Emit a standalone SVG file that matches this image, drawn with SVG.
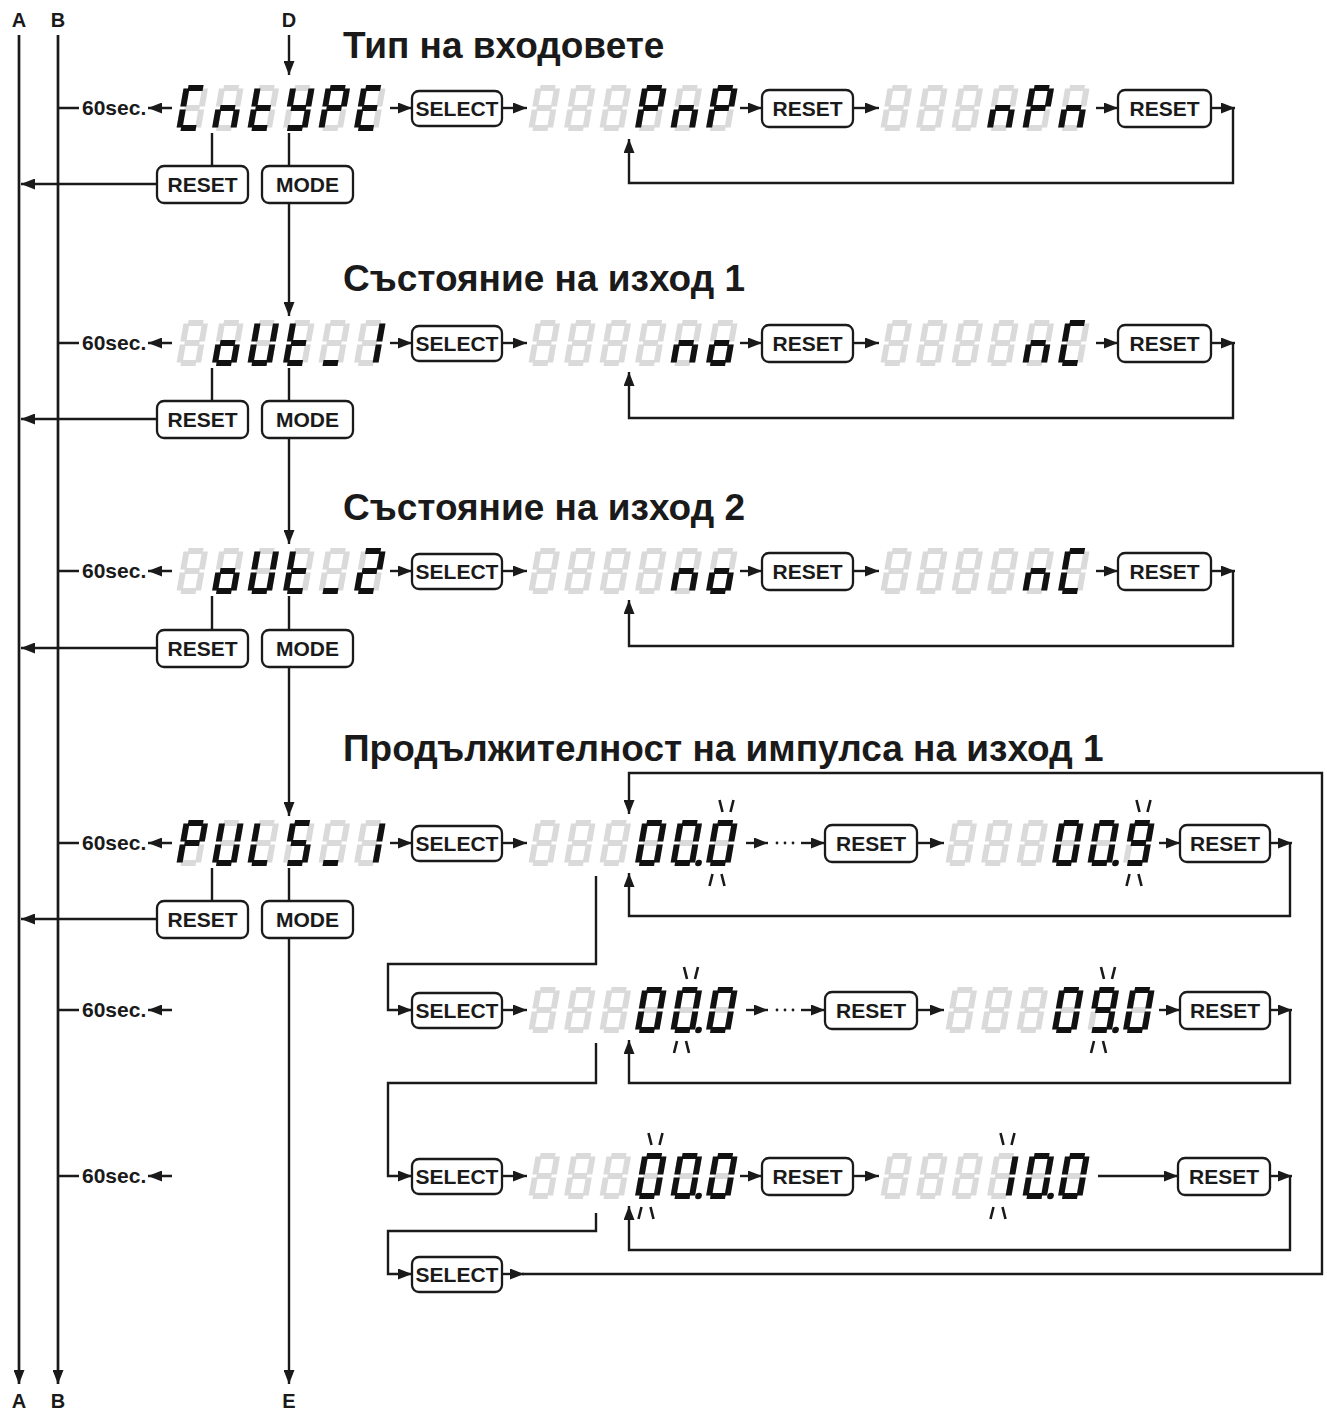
<svg xmlns="http://www.w3.org/2000/svg" width="1327" height="1412" viewBox="0 0 1327 1412">
<style>
.ln{stroke:#1a1a1a;stroke-width:2.4;fill:none}
.lw{stroke:#1a1a1a;stroke-width:2.7;fill:none}
.bl{stroke:#1a1a1a;stroke-width:2.6;fill:none}
.arr{marker-end:url(#ah)}
.btn{fill:#fff;stroke:#1a1a1a;stroke-width:2.3}
.bt{font-family:"Liberation Sans",Arial,sans-serif;font-weight:bold;font-size:21px;text-anchor:middle;fill:#1a1a1a}
.ttl{font-family:"Liberation Sans",Arial,sans-serif;font-weight:bold;font-size:37px;fill:#1a1a1a}
.sec{font-family:"Liberation Sans",Arial,sans-serif;font-weight:bold;font-size:21px;fill:#1a1a1a}
.lbl{font-family:"Liberation Sans",Arial,sans-serif;font-weight:bold;font-size:20px;text-anchor:middle;fill:#1a1a1a}
.on{fill:#111}
.off{fill:#dadada}
.dot{fill:#1a1a1a}
</style>
<defs>
<marker id="ah" viewBox="0 0 14 11" refX="14" refY="5.5" markerWidth="14" markerHeight="11" markerUnits="userSpaceOnUse" orient="auto"><path d="M0,0 L14,5.5 L0,11 z" fill="#1a1a1a"/></marker>
<rect id="sa" x="4.5" y="0" width="15" height="6"/>
<rect id="sb" x="18.5" y="3.5" width="6" height="18"/>
<rect id="sc" x="18.5" y="24.5" width="6" height="18"/>
<rect id="sd" x="4.5" y="40" width="15" height="6"/>
<rect id="se" x="0" y="24.5" width="6" height="18"/>
<rect id="sf" x="0" y="3.5" width="6" height="18"/>
<rect id="sg" x="4.5" y="20" width="15" height="6"/>
<circle id="sdp" cx="28" cy="43" r="3.3"/>
<g id="g8" class="off"><use href="#sa"/><use href="#sb"/><use href="#sc"/><use href="#sd"/><use href="#se"/><use href="#sf"/><use href="#sg"/></g>
<g id="c-sp" transform="translate(8.1 0) skewX(-10)"><use href="#g8"/></g>
<g id="c-C" transform="translate(8.1 0) skewX(-10)"><use href="#g8"/><g class="on"><use href="#sa"/><use href="#sd"/><use href="#se"/><use href="#sf"/></g></g>
<g id="c-n" transform="translate(8.1 0) skewX(-10)"><use href="#g8"/><g class="on"><use href="#sc"/><use href="#se"/><use href="#sg"/></g></g>
<g id="c-t" transform="translate(8.1 0) skewX(-10)"><use href="#g8"/><g class="on"><use href="#sd"/><use href="#se"/><use href="#sf"/><use href="#sg"/></g></g>
<g id="c-Y" transform="translate(8.1 0) skewX(-10)"><use href="#g8"/><g class="on"><use href="#sb"/><use href="#sc"/><use href="#sd"/><use href="#sf"/><use href="#sg"/></g></g>
<g id="c-P" transform="translate(8.1 0) skewX(-10)"><use href="#g8"/><g class="on"><use href="#sa"/><use href="#sb"/><use href="#se"/><use href="#sf"/><use href="#sg"/></g></g>
<g id="c-E" transform="translate(8.1 0) skewX(-10)"><use href="#g8"/><g class="on"><use href="#sa"/><use href="#sd"/><use href="#se"/><use href="#sf"/><use href="#sg"/></g></g>
<g id="c-o" transform="translate(8.1 0) skewX(-10)"><use href="#g8"/><g class="on"><use href="#sc"/><use href="#sd"/><use href="#se"/><use href="#sg"/></g></g>
<g id="c-U" transform="translate(8.1 0) skewX(-10)"><use href="#g8"/><g class="on"><use href="#sb"/><use href="#sc"/><use href="#sd"/><use href="#se"/><use href="#sf"/></g></g>
<g id="c-us" transform="translate(8.1 0) skewX(-10)"><use href="#g8"/><g class="on"><use href="#sd"/></g></g>
<g id="c-1" transform="translate(8.1 0) skewX(-10)"><use href="#g8"/><g class="on"><use href="#sb"/><use href="#sc"/></g></g>
<g id="c-2" transform="translate(8.1 0) skewX(-10)"><use href="#g8"/><g class="on"><use href="#sa"/><use href="#sb"/><use href="#sd"/><use href="#se"/><use href="#sg"/></g></g>
<g id="c-S" transform="translate(8.1 0) skewX(-10)"><use href="#g8"/><g class="on"><use href="#sa"/><use href="#sc"/><use href="#sd"/><use href="#sf"/><use href="#sg"/></g></g>
<g id="c-L" transform="translate(8.1 0) skewX(-10)"><use href="#g8"/><g class="on"><use href="#sd"/><use href="#se"/><use href="#sf"/></g></g>
<g id="c-0" transform="translate(8.1 0) skewX(-10)"><use href="#g8"/><g class="on"><use href="#sa"/><use href="#sb"/><use href="#sc"/><use href="#sd"/><use href="#se"/><use href="#sf"/></g></g>
<g id="c-0d" transform="translate(8.1 0) skewX(-10)"><use href="#g8"/><g class="on"><use href="#sa"/><use href="#sb"/><use href="#sc"/><use href="#sd"/><use href="#se"/><use href="#sf"/><use href="#sdp"/></g></g>
<g id="c-9" transform="translate(8.1 0) skewX(-10)"><use href="#g8"/><g class="on"><use href="#sa"/><use href="#sb"/><use href="#sc"/><use href="#sd"/><use href="#sf"/><use href="#sg"/></g></g>
<g id="c-9d" transform="translate(8.1 0) skewX(-10)"><use href="#g8"/><g class="on"><use href="#sa"/><use href="#sb"/><use href="#sc"/><use href="#sd"/><use href="#sf"/><use href="#sg"/><use href="#sdp"/></g></g>
</defs>
<rect width="1327" height="1412" fill="#fff"/>

<g id="labels">
<text class="lbl" x="19" y="27">A</text>
<text class="lbl" x="58" y="27">B</text>
<text class="lbl" x="289" y="27">D</text>
<text class="lbl" x="19" y="1408">A</text>
<text class="lbl" x="58" y="1408">B</text>
<text class="lbl" x="289" y="1408">E</text>
</g>

<g id="titles">
<text class="ttl" x="343" y="58">Тип на входовете</text>
<text class="ttl" x="343" y="291">Състояние на изход 1</text>
<text class="ttl" x="343" y="520">Състояние на изход 2</text>
<text class="ttl" x="343" y="761">Продължителност на импулса на изход 1</text>
</g>

<g id="connectors">
<path class="lw arr" d="M19 35 V1384"/>
<path class="lw arr" d="M58 35 V1384"/>
<path class="ln arr" d="M289 35 V75"/>
<path class="ln arr" d="M79 108 H59 M172 108 H148"/>
<path class="ln arr" d="M79 343 H59 M172 343 H148"/>
<path class="ln arr" d="M79 571 H59 M172 571 H148"/>
<path class="ln arr" d="M79 843 H59 M172 843 H148"/>
<path class="ln arr" d="M79 1010 H59 M172 1010 H148"/>
<path class="ln arr" d="M79 1176 H59 M172 1176 H148"/>
<!-- row 1 -->
<path class="ln arr" d="M390 108 H412"/>
<path class="ln arr" d="M502 108 H527"/>
<path class="ln arr" d="M740 108 H762"/>
<path class="ln arr" d="M853 108 H879"/>
<path class="ln arr" d="M1096 108 H1118"/>
<path class="ln arr" d="M1211 108 H1235"/>
<path class="ln arr" d="M1233 108 V183 H629 V139"/>
<path class="ln" d="M212 133 V166 M289 133 V166"/>
<path class="ln arr" d="M157 184 H21"/>
<path class="ln arr" d="M289 203 V316"/>
<!-- row 2 -->
<path class="ln arr" d="M390 343 H412"/>
<path class="ln arr" d="M502 343 H527"/>
<path class="ln arr" d="M740 343 H762"/>
<path class="ln arr" d="M853 343 H879"/>
<path class="ln arr" d="M1096 343 H1118"/>
<path class="ln arr" d="M1211 343 H1235"/>
<path class="ln arr" d="M1233 343 V418 H629 V372"/>
<path class="ln" d="M212 368 V401 M289 368 V401"/>
<path class="ln arr" d="M157 419 H21"/>
<path class="ln arr" d="M289 438 V544"/>
<!-- row 3 -->
<path class="ln arr" d="M390 571 H412"/>
<path class="ln arr" d="M502 571 H527"/>
<path class="ln arr" d="M740 571 H762"/>
<path class="ln arr" d="M853 571 H879"/>
<path class="ln arr" d="M1096 571 H1118"/>
<path class="ln arr" d="M1211 571 H1235"/>
<path class="ln arr" d="M1233 571 V646 H629 V600"/>
<path class="ln" d="M212 596 V629 M289 596 V629"/>
<path class="ln arr" d="M157 648 H21"/>
<path class="ln arr" d="M289 667 V816"/>
<!-- row 4 -->
<path class="ln arr" d="M390 843 H412"/>
<path class="ln arr" d="M502 843 H527"/>
<path class="ln arr" d="M746 843 H768"/>
<path class="ln arr" d="M801 843 H825"/>
<path class="ln arr" d="M917 843 H944"/>
<path class="ln arr" d="M1159 843 H1180"/>
<path class="ln arr" d="M1270 843 H1292"/>
<path class="ln arr" d="M1290 843 V916 H629 V873"/>
<path class="ln" d="M212 868 V901 M289 868 V901"/>
<path class="ln arr" d="M157 919 H21"/>
<path class="ln arr" d="M289 938 V1384"/>
<path class="ln arr" d="M596 876 V964 H388 V1010 H412"/>
<!-- row 5 -->
<path class="ln arr" d="M502 1010 H527"/>
<path class="ln arr" d="M746 1010 H768"/>
<path class="ln arr" d="M801 1010 H825"/>
<path class="ln arr" d="M917 1010 H944"/>
<path class="ln arr" d="M1159 1010 H1180"/>
<path class="ln arr" d="M1270 1010 H1292"/>
<path class="ln arr" d="M1290 1010 V1083 H629 V1040"/>
<path class="ln arr" d="M596 1043 V1083 H388 V1176 H412"/>
<!-- row 6 -->
<path class="ln arr" d="M502 1176 H527"/>
<path class="ln arr" d="M740 1176 H762"/>
<path class="ln arr" d="M853 1176 H879"/>
<path class="ln arr" d="M1098 1176 H1178"/>
<path class="ln arr" d="M1270 1176 H1292"/>
<path class="ln arr" d="M1290 1176 V1250 H629 V1206"/>
<path class="ln arr" d="M596 1213 V1231 H388 V1274 H412"/>
<!-- row 7 / big loop -->
<path class="ln arr" d="M502 1274 H524"/>
<path class="ln arr" d="M522 1274 H1322 V773 H629 V814"/>
<circle class="dot" cx="777" cy="843" r="1.4"/><circle class="dot" cx="785" cy="843" r="1.4"/><circle class="dot" cx="793" cy="843" r="1.4"/>
<circle class="dot" cx="777" cy="1010" r="1.4"/><circle class="dot" cx="785" cy="1010" r="1.4"/><circle class="dot" cx="793" cy="1010" r="1.4"/>
</g>

<g id="timeouts">
<text class="sec" x="82" y="115">60sec.</text>
<text class="sec" x="82" y="350">60sec.</text>
<text class="sec" x="82" y="578">60sec.</text>
<text class="sec" x="82" y="850">60sec.</text>
<text class="sec" x="82" y="1017">60sec.</text>
<text class="sec" x="82" y="1183">60sec.</text>
</g>

<g id="btn-r1-select"><rect class="btn" x="412" y="91" width="90" height="35" rx="7"/><text class="bt" x="457" y="116">SELECT</text></g>
<g id="btn-r1-reset1"><rect class="btn" x="762" y="90" width="91" height="37" rx="7"/><text class="bt" x="807.5" y="116">RESET</text></g>
<g id="btn-r1-reset2"><rect class="btn" x="1118" y="90" width="93" height="37" rx="7"/><text class="bt" x="1164.5" y="116">RESET</text></g>
<g id="btn-r1-reset"><rect class="btn" x="157" y="166" width="91" height="37" rx="7"/><text class="bt" x="202.5" y="192">RESET</text></g>
<g id="btn-r1-mode"><rect class="btn" x="262" y="166" width="91" height="37" rx="7"/><text class="bt" x="307.5" y="192">MODE</text></g>

<g id="btn-r2-select"><rect class="btn" x="412" y="326" width="90" height="35" rx="7"/><text class="bt" x="457" y="351">SELECT</text></g>
<g id="btn-r2-reset1"><rect class="btn" x="762" y="325" width="91" height="37" rx="7"/><text class="bt" x="807.5" y="351">RESET</text></g>
<g id="btn-r2-reset2"><rect class="btn" x="1118" y="325" width="93" height="37" rx="7"/><text class="bt" x="1164.5" y="351">RESET</text></g>
<g id="btn-r2-reset"><rect class="btn" x="157" y="401" width="91" height="37" rx="7"/><text class="bt" x="202.5" y="427">RESET</text></g>
<g id="btn-r2-mode"><rect class="btn" x="262" y="401" width="91" height="37" rx="7"/><text class="bt" x="307.5" y="427">MODE</text></g>

<g id="btn-r3-select"><rect class="btn" x="412" y="554" width="90" height="35" rx="7"/><text class="bt" x="457" y="579">SELECT</text></g>
<g id="btn-r3-reset1"><rect class="btn" x="762" y="553" width="91" height="37" rx="7"/><text class="bt" x="807.5" y="579">RESET</text></g>
<g id="btn-r3-reset2"><rect class="btn" x="1118" y="553" width="93" height="37" rx="7"/><text class="bt" x="1164.5" y="579">RESET</text></g>
<g id="btn-r3-reset"><rect class="btn" x="157" y="630" width="91" height="37" rx="7"/><text class="bt" x="202.5" y="656">RESET</text></g>
<g id="btn-r3-mode"><rect class="btn" x="262" y="630" width="91" height="37" rx="7"/><text class="bt" x="307.5" y="656">MODE</text></g>

<g id="btn-r4-select"><rect class="btn" x="412" y="826" width="90" height="35" rx="7"/><text class="bt" x="457" y="851">SELECT</text></g>
<g id="btn-r4-reset1"><rect class="btn" x="825" y="825" width="92" height="37" rx="7"/><text class="bt" x="871" y="851">RESET</text></g>
<g id="btn-r4-reset2"><rect class="btn" x="1180" y="825" width="90" height="37" rx="7"/><text class="bt" x="1225" y="851">RESET</text></g>
<g id="btn-r4-reset"><rect class="btn" x="157" y="901" width="91" height="37" rx="7"/><text class="bt" x="202.5" y="927">RESET</text></g>
<g id="btn-r4-mode"><rect class="btn" x="262" y="901" width="91" height="37" rx="7"/><text class="bt" x="307.5" y="927">MODE</text></g>

<g id="btn-r5-select"><rect class="btn" x="412" y="993" width="90" height="35" rx="7"/><text class="bt" x="457" y="1018">SELECT</text></g>
<g id="btn-r5-reset1"><rect class="btn" x="825" y="992" width="92" height="37" rx="7"/><text class="bt" x="871" y="1018">RESET</text></g>
<g id="btn-r5-reset2"><rect class="btn" x="1180" y="992" width="90" height="37" rx="7"/><text class="bt" x="1225" y="1018">RESET</text></g>

<g id="btn-r6-select"><rect class="btn" x="412" y="1159" width="90" height="35" rx="7"/><text class="bt" x="457" y="1184">SELECT</text></g>
<g id="btn-r6-reset1"><rect class="btn" x="762" y="1158" width="91" height="37" rx="7"/><text class="bt" x="807.5" y="1184">RESET</text></g>
<g id="btn-r6-reset2"><rect class="btn" x="1178" y="1158" width="92" height="37" rx="7"/><text class="bt" x="1224" y="1184">RESET</text></g>

<g id="btn-r7-select"><rect class="btn" x="412" y="1257" width="90" height="35" rx="7"/><text class="bt" x="457" y="1282">SELECT</text></g>

<g id="disp-r1-1"><use href="#c-C" x="176" y="85"/><use href="#c-n" x="211.5" y="85"/><use href="#c-t" x="247" y="85"/><use href="#c-Y" x="282.5" y="85"/><use href="#c-P" x="318" y="85"/><use href="#c-E" x="353.5" y="85"/></g>
<g id="disp-r1-2"><use href="#c-sp" x="528" y="85"/><use href="#c-sp" x="563.5" y="85"/><use href="#c-sp" x="599" y="85"/><use href="#c-P" x="634.5" y="85"/><use href="#c-n" x="670" y="85"/><use href="#c-P" x="705.5" y="85"/></g>
<g id="disp-r1-3"><use href="#c-sp" x="880" y="85"/><use href="#c-sp" x="915.5" y="85"/><use href="#c-sp" x="951" y="85"/><use href="#c-n" x="986.5" y="85"/><use href="#c-P" x="1022" y="85"/><use href="#c-n" x="1057.5" y="85"/></g>

<g id="disp-r2-1"><use href="#c-sp" x="176" y="320"/><use href="#c-o" x="211.5" y="320"/><use href="#c-U" x="247" y="320"/><use href="#c-t" x="282.5" y="320"/><use href="#c-us" x="318" y="320"/><use href="#c-1" x="353.5" y="320"/></g>
<g id="disp-r2-2"><use href="#c-sp" x="528" y="320"/><use href="#c-sp" x="563.5" y="320"/><use href="#c-sp" x="599" y="320"/><use href="#c-sp" x="634.5" y="320"/><use href="#c-n" x="670" y="320"/><use href="#c-o" x="705.5" y="320"/></g>
<g id="disp-r2-3"><use href="#c-sp" x="880" y="320"/><use href="#c-sp" x="915.5" y="320"/><use href="#c-sp" x="951" y="320"/><use href="#c-sp" x="986.5" y="320"/><use href="#c-n" x="1022" y="320"/><use href="#c-C" x="1057.5" y="320"/></g>

<g id="disp-r3-1"><use href="#c-sp" x="176" y="548"/><use href="#c-o" x="211.5" y="548"/><use href="#c-U" x="247" y="548"/><use href="#c-t" x="282.5" y="548"/><use href="#c-us" x="318" y="548"/><use href="#c-2" x="353.5" y="548"/></g>
<g id="disp-r3-2"><use href="#c-sp" x="528" y="548"/><use href="#c-sp" x="563.5" y="548"/><use href="#c-sp" x="599" y="548"/><use href="#c-sp" x="634.5" y="548"/><use href="#c-n" x="670" y="548"/><use href="#c-o" x="705.5" y="548"/></g>
<g id="disp-r3-3"><use href="#c-sp" x="880" y="548"/><use href="#c-sp" x="915.5" y="548"/><use href="#c-sp" x="951" y="548"/><use href="#c-sp" x="986.5" y="548"/><use href="#c-n" x="1022" y="548"/><use href="#c-C" x="1057.5" y="548"/></g>

<g id="disp-r4-1"><use href="#c-P" x="176" y="820"/><use href="#c-U" x="211.5" y="820"/><use href="#c-L" x="247" y="820"/><use href="#c-S" x="282.5" y="820"/><use href="#c-us" x="318" y="820"/><use href="#c-1" x="353.5" y="820"/></g>
<g id="disp-r4-2"><use href="#c-sp" x="528" y="820"/><use href="#c-sp" x="563.5" y="820"/><use href="#c-sp" x="599" y="820"/><use href="#c-0" x="634.5" y="820"/><use href="#c-0d" x="670" y="820"/><use href="#c-0" x="705.5" y="820"/>
<path class="bl" d="M719.5 800 L722.5 812 M733.5 800 L730.5 812 M709.5 886 L712.5 874 M721.5 874 L724.5 886"/></g>
<g id="disp-r4-3"><use href="#c-sp" x="945" y="820"/><use href="#c-sp" x="980.5" y="820"/><use href="#c-sp" x="1016" y="820"/><use href="#c-0" x="1051.5" y="820"/><use href="#c-0d" x="1087" y="820"/><use href="#c-9" x="1122.5" y="820"/>
<path class="bl" d="M1136.5 800 L1139.5 812 M1150.5 800 L1147.5 812 M1126.5 886 L1129.5 874 M1138.5 874 L1141.5 886"/></g>

<g id="disp-r5-1"><use href="#c-sp" x="528" y="987"/><use href="#c-sp" x="563.5" y="987"/><use href="#c-sp" x="599" y="987"/><use href="#c-0" x="634.5" y="987"/><use href="#c-0d" x="670" y="987"/><use href="#c-0" x="705.5" y="987"/>
<path class="bl" d="M684 967 L687 979 M698 967 L695 979 M674 1053 L677 1041 M686 1041 L689 1053"/></g>
<g id="disp-r5-2"><use href="#c-sp" x="945" y="987"/><use href="#c-sp" x="980.5" y="987"/><use href="#c-sp" x="1016" y="987"/><use href="#c-0" x="1051.5" y="987"/><use href="#c-9d" x="1087" y="987"/><use href="#c-0" x="1122.5" y="987"/>
<path class="bl" d="M1101 967 L1104 979 M1115 967 L1112 979 M1091 1053 L1094 1041 M1103 1041 L1106 1053"/></g>

<g id="disp-r6-1"><use href="#c-sp" x="528" y="1153"/><use href="#c-sp" x="563.5" y="1153"/><use href="#c-sp" x="599" y="1153"/><use href="#c-0" x="634.5" y="1153"/><use href="#c-0d" x="670" y="1153"/><use href="#c-0" x="705.5" y="1153"/>
<path class="bl" d="M648.5 1133 L651.5 1145 M662.5 1133 L659.5 1145 M638.5 1219 L641.5 1207 M650.5 1207 L653.5 1219"/></g>
<g id="disp-r6-2"><use href="#c-sp" x="880" y="1153"/><use href="#c-sp" x="915.5" y="1153"/><use href="#c-sp" x="951" y="1153"/><use href="#c-1" x="986.5" y="1153"/><use href="#c-0d" x="1022" y="1153"/><use href="#c-0" x="1057.5" y="1153"/>
<path class="bl" d="M1000.5 1133 L1003.5 1145 M1014.5 1133 L1011.5 1145 M990.5 1219 L993.5 1207 M1002.5 1207 L1005.5 1219"/></g>
</svg>
